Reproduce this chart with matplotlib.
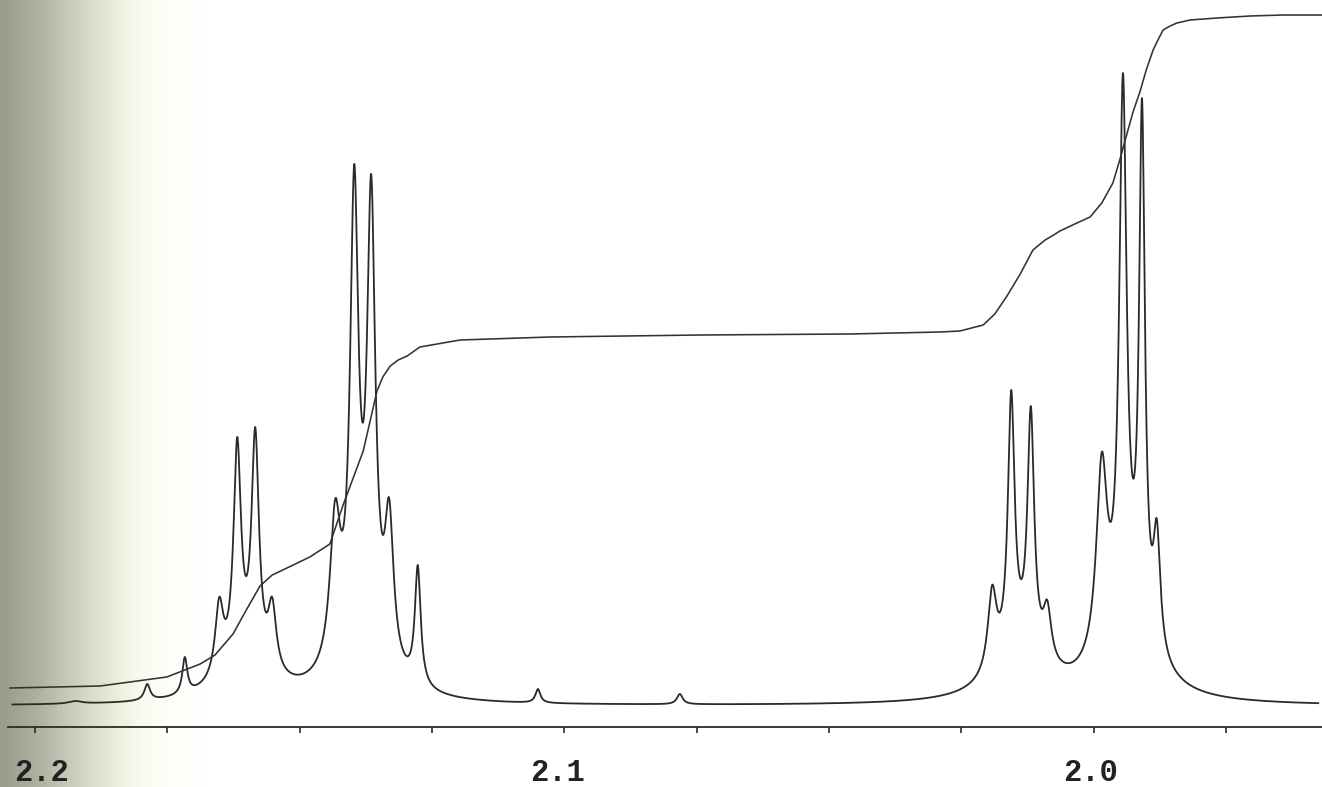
import matplotlib
matplotlib.use("Agg")
import matplotlib.pyplot as plt
import matplotlib.transforms as mtransforms
from matplotlib.colors import LinearSegmentedColormap
from matplotlib.ticker import FixedLocator, MultipleLocator, FormatStrFormatter
import numpy as np

# --- spectrum: resolved lines (ppm, height above baseline, half width) ---
peak_ppm = [2.1924, 2.1788, 2.1717, 2.1652, 2.1618, 2.1584, 2.1552,
            2.1433, 2.1397, 2.1365, 2.1331, 2.1277, 2.1050, 2.0782,
            2.0192, 2.0156, 2.0119, 2.0088, 1.9985, 1.9945, 1.9909, 1.9881]
peak_height = [5, 22, 49, 109, 269, 279, 109,
               207, 542, 532, 208, 141, 17, 12,
               121, 316, 300, 106, 254, 633, 608, 187]
peak_hwhm = [0.0015, 0.00066, 0.00057, 0.00094, 0.00085, 0.00085, 0.00094,
             0.0012, 0.00094, 0.00094, 0.00100, 0.00066, 0.00057, 0.00066,
             0.00100, 0.00076, 0.00076, 0.00094, 0.00125, 0.00085, 0.00066, 0.00080]

# broad unresolved humps under each multiplet
broad_ppm = [2.1603, 2.1382, 2.0139, 1.9932]
broad_height = [32, 38, 45, 55]
broad_hwhm = [0.0057, 0.0057, 0.0057, 0.0057]

baseline = 21

# --- integral trace ---
integral_ppm = [2.2047, 2.1877, 2.1751, 2.1688, 2.1660, 2.1626, 2.1603, 2.1575,
                2.1552, 2.1524, 2.1481, 2.1443, 2.1418, 2.1380, 2.1354, 2.1343,
                2.1329, 2.1314, 2.1297, 2.1273, 2.1197, 2.1027, 2.0744, 2.0461,
                2.0291, 2.0253, 2.0209, 2.0187, 2.0164, 2.0139, 2.0115, 2.0092,
                2.0079, 2.0064, 2.0036, 2.0007, 1.9985, 1.9964, 1.9951, 1.9937,
                1.9926, 1.9913, 1.9901, 1.9888, 1.9879, 1.9869, 1.9856, 1.9843,
                1.9818, 1.9767, 1.9705, 1.9643, 1.9569]
integral_level = [39, 41, 50, 63, 72, 93, 115, 141,
                  152, 159, 170, 183, 222, 276, 336, 350,
                  361, 367, 371, 380, 387, 390, 392, 393,
                  395, 396, 402, 413, 431, 453, 477, 487,
                  491, 496, 503, 510, 524, 544, 567, 594,
                  615, 635, 657, 677, 687, 697, 701, 704,
                  707, 709, 711, 712, 712]

major_ticks = [2.2, 2.1, 2.0]
# the typed labels sit a little off their ticks (pixels)
label_shift_px = [6, -7, -3]


def lorentz(x, x0, w):
    return 1.0 / (1.0 + ((x - x0) / w) ** 2)


def broad_part(x):
    return sum(h * lorentz(x, c, w) for c, h, w in zip(broad_ppm, broad_height, broad_hwhm))


# line amplitudes so the summed trace reaches the read peak heights
pp = np.array(peak_ppm)
M = np.array([[lorentz(xi, xj, wj) for xj, wj in zip(peak_ppm, peak_hwhm)] for xi in peak_ppm])
amps = np.linalg.solve(M, np.array(peak_height) - broad_part(pp))

x = np.linspace(2.2043, 1.9576, 6000)
y = baseline + broad_part(x)
for a, c, w in zip(amps, peak_ppm, peak_hwhm):
    y = y + a * lorentz(x, c, w)

W, H = 1322, 787
fig = plt.figure(figsize=(W / 100, H / 100), dpi=100)

# scanned-paper shading on the left edge
bg = fig.add_axes([0, 0, 1, 1], zorder=0)
paper = LinearSegmentedColormap.from_list("paper", [
    (0.0, "#9a9d8d"), (0.023, "#abad9d"), (0.045, "#c4c5b4"), (0.068, "#dcdccb"),
    (0.087, "#eeeedd"), (0.102, "#f8f8ec"), (0.121, "#fdfdf8"), (0.15, "#ffffff"),
    (1.0, "#ffffff")])
bg.imshow(np.linspace(0, 1, W)[None, :], aspect="auto", cmap=paper,
          extent=[0, 1, 0, 1], vmin=0, vmax=1)
bg.axis("off")

ax = fig.add_axes([8 / W, (H - 727) / H, 1 - 8 / W, 727 / H], zorder=1)
ax.patch.set_alpha(0)
ink = "#2a2a2a"
ax.plot(x, y, color=ink, lw=1.3, solid_joinstyle="round")
ax.plot(integral_ppm, integral_level, color="#333333", lw=1.15,
        solid_joinstyle="round")

ax.set_xlim(2.2051, 1.9569)
ax.set_ylim(0, 727)
for side in ["top", "left", "right"]:
    ax.spines[side].set_visible(False)
ax.spines["bottom"].set_color(ink)
ax.spines["bottom"].set_linewidth(1.3)
ax.set_yticks([])

ax.xaxis.set_major_locator(FixedLocator(major_ticks))
ax.xaxis.set_minor_locator(MultipleLocator(0.025))
ax.xaxis.set_major_formatter(FormatStrFormatter("%.1f"))
ax.tick_params(axis="x", which="both", direction="out", length=4, width=1.2,
               color=ink)
ax.tick_params(axis="x", which="major", pad=18, labelsize=22, labelcolor="#222222")
for lab, dx in zip(ax.get_xticklabels(), label_shift_px):
    lab.set_fontfamily(["Liberation Mono", "DejaVu Sans Mono"])
    lab.set_fontweight("bold")
    lab.set_transform(lab.get_transform() +
                      mtransforms.ScaledTranslation(dx / 100, 0, fig.dpi_scale_trans))

fig.savefig("out.png", dpi=100)
